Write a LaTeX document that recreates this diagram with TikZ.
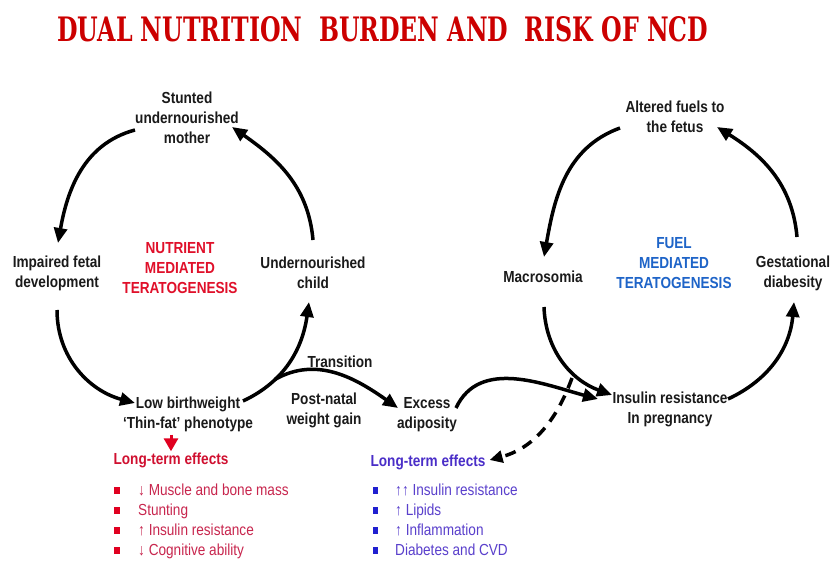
\documentclass[tikz,border=0pt]{standalone}
\usepackage{fontspec}
\usepackage{graphicx}
\usetikzlibrary{arrows.meta}
\newfontfamily\lab{Liberation Sans}[FakeStretch=0.85]
\newfontfamily\ttl{DejaVu Serif}
\definecolor{titlered}{HTML}{CC0000}
\definecolor{labblack}{HTML}{1A1A1A}
\definecolor{nutred}{HTML}{E0102A}
\definecolor{fuelblue}{HTML}{1E64C8}
\definecolor{ltred}{HTML}{D01030}
\definecolor{itemred}{HTML}{C8264E}
\definecolor{bulred}{HTML}{E00020}
\definecolor{ltblue}{HTML}{4A2EC8}
\definecolor{itemblue}{HTML}{5A40CC}
\definecolor{bulblue}{HTML}{2020D0}
\tikzset{
  lbl/.style={font=\lab\bfseries\fontsize{16}{20}\selectfont, align=center, inner sep=1pt, text=labblack},
  itm/.style={font=\lab\fontsize{16}{20}\selectfont, inner sep=0pt, anchor=base west},
  cyc/.style={line width=3.5pt, draw=black, -{Triangle[length=15pt,width=13pt]}},
  dashcyc/.style={line width=3.5pt, draw=black, dash pattern=on 11pt off 8pt, -{Triangle[length=13pt,width=12pt]}},
  redarr/.style={line width=3pt, draw=bulred, -{Triangle[length=13pt,width=14pt]}},
  bulr/.style={fill=bulred, minimum width=6pt, minimum height=7pt, inner sep=0pt},
  bulb/.style={fill=bulblue, minimum width=5pt, minimum height=7pt, inner sep=0pt}
}
\begin{document}
\begin{tikzpicture}[x=1pt,y=1pt]
\path[use as bounding box, fill=white] (0,0) rectangle (832,-561);

% title
\node[anchor=south west, inner sep=0pt, text=titlered] (title) at (57,-42)
  {\resizebox{651pt}{25pt}{\ttl\bfseries DUAL NUTRITION\ \ BURDEN AND\ \ RISK OF NCD}};

% left cycle nodes
\node[lbl] (stunted) at (187,-118) {Stunted\\undernourished\\mother};
\node[lbl] (impaired) at (57,-273) {Impaired fetal\\development};
\node[lbl, text=nutred] (nmt) at (180,-268) {NUTRIENT\\MEDIATED\\TERATOGENESIS};
\node[lbl] (uchild) at (313,-273) {Undernourished\\child};
\node[lbl] (lbw) at (188,-414) {Low birthweight\\‘Thin-fat’ phenotype};
\node[lbl] (trans) at (340,-362) {Transition};
\node[lbl] (postnatal) at (324,-410) {Post-natal\\weight gain};
\node[lbl] (excess) at (427,-415) {Excess\\adiposity};

% right cycle nodes
\node[lbl] (altered) at (675,-117) {Altered fuels to\\the fetus};
\node[lbl] (macro) at (543,-277) {Macrosomia};
\node[lbl, text=fuelblue] (fmt) at (674,-263) {FUEL\\MEDIATED\\TERATOGENESIS};
\node[lbl] (gest) at (793,-273) {Gestational\\diabesity};
\node[lbl] (insulin) at (670,-409) {Insulin resistance\\In pregnancy};

% long-term effects
\node[lbl, text=ltred] (ltr) at (171,-460) {Long-term effects};
\node[lbl, text=ltblue] (ltb) at (428,-462) {Long-term effects};

\foreach \t [count=\i from 0] in {{↓ Muscle and bone mass},{Stunting},{↑ Insulin resistance},{↓ Cognitive ability}} {
  \node[bulr] (rb\i) at (117,-490-20*\i) {};
  \node[itm, text=itemred] (ri\i) at (138,-495.5-20*\i) {\t};
}
\foreach \t [count=\i from 0] in {{↑↑ Insulin resistance},{↑ Lipids},{↑ Inflammation},{Diabetes and CVD}} {
  \node[bulb] (bb\i) at (375,-490-20*\i) {};
  \node[itm, text=itemblue] (bi\i) at (395,-495.5-20*\i) {\t};
}

% left cycle arrows
\draw[cyc] ([shift={(-52,-12)}]stunted.center) to[out=195,in=80] ([shift={(1,30)}]impaired.center);
\draw[cyc] ([shift={(0,33)}]uchild.center) to[out=95,in=-35] ([shift={(45,-9)}]stunted.center);
\draw[cyc] ([shift={(0,-37)}]impaired.center) to[out=270,in=165] ([shift={(-53,11)}]lbw.center);
\draw[cyc] ([shift={(55,13)}]lbw.center) to[out=25,in=262] coordinate[pos=0.3] (br) ([shift={(-4,-29)}]uchild.center);
\draw[cyc] (br) to[out=30,in=145] ([shift={(-29,7)}]excess.center);

% right cycle arrows
\draw[cyc] ([shift={(-55,-11)}]altered.center) to[out=200,in=80] ([shift={(1,20)}]macro.center);
\draw[cyc] ([shift={(4,36)}]gest.center) to[out=95,in=-32] ([shift={(42,-10)}]altered.center);
\draw[cyc] ([shift={(1,-30)}]macro.center) to[out=272,in=160] ([shift={(-58,14)}]insulin.center);
\draw[cyc] ([shift={(58,10)}]insulin.center) to[out=25,in=265] ([shift={(1,-29)}]gest.center);
\draw[cyc] ([shift={(29,7)}]excess.center) to[out=65,in=165] ([shift={(-72,10)}]insulin.center);

% dashed arrow
\coordinate (dstart) at (572,-378);
\draw[dashcyc] (dstart) to[out=250,in=15] ([shift={(3,2)}]ltb.east);

% red arrow
\draw[redarr] (lbw.south -| ltr.north) ++(0,-2) coordinate (rs) (rs) -- (ltr.north);
\end{tikzpicture}
\end{document}
